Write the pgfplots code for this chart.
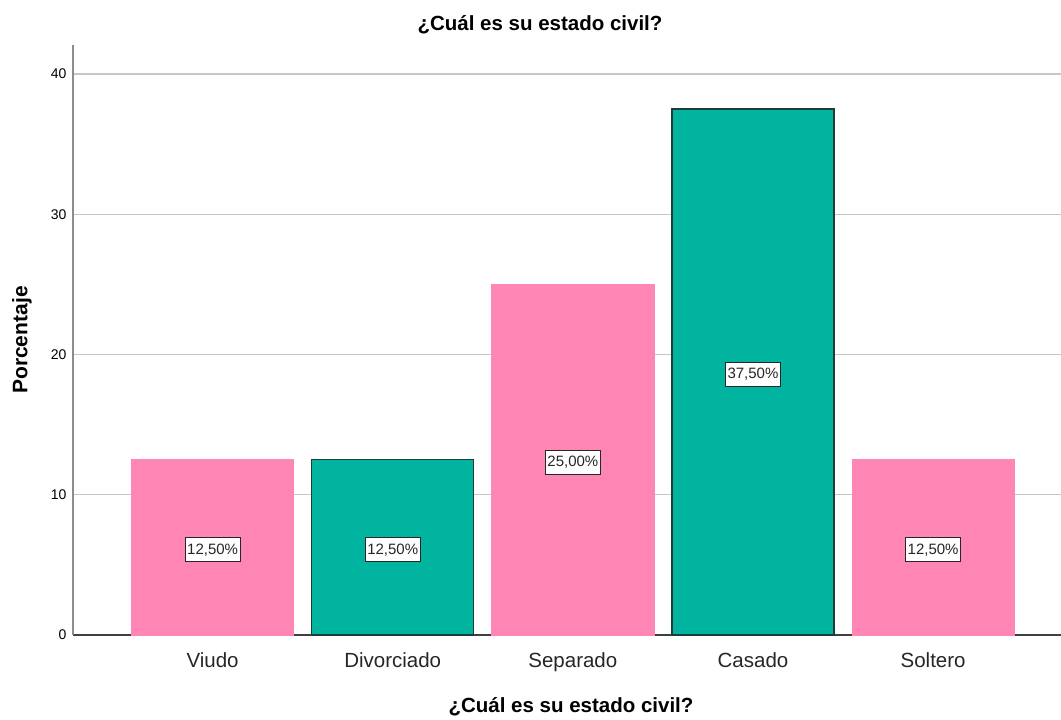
\documentclass[border=0pt]{standalone}
\usepackage{pgfplots}
\pgfplotsset{compat=1.18}
\usepackage{pgfplotstable}
\usepackage{fontspec}
\setmainfont{Liberation Sans}
\definecolor{pinkbar}{HTML}{FF85B5}
\definecolor{tealbar}{HTML}{00B4A0}
\definecolor{tealedge}{HTML}{1E3C38}
\pgfplotstableread{
x y
0 12.5
2 25.0
4 12.5
}\pinkdata
\pgfplotstableread{
x y
1 12.5
3 37.5
}\tealdata
\pgfplotstableread{
x y
0 12.5
1 12.5
2 25.0
3 37.5
4 12.5
}\alldata
\begin{document}
\begin{tikzpicture}[x=1pt,y=1pt]
\path[use as bounding box] (0,0) rectangle (1061,720);
\begin{axis}[
  at={(73pt,85pt)}, anchor=south west,
  scale only axis, width=988pt, height=590pt,
  xmin=-0.775, xmax=4.71, ymin=0, ymax=42.07,
  axis x line*=bottom, axis y line*=left,
  x axis line style={draw=black!75, line width=1.2pt, -},
  y axis line style={draw=black!45, line width=1.2pt, -},
  xtick={0,1,2,3,4},
  xticklabels={Viudo,Divorciado,Separado,Casado,Soltero},
  ytick={0,10,20,30,40},
  major tick length=0pt,
  ymajorgrids, grid style={draw=black!22, line width=1.2pt},
  xticklabel style={font=\fontsize{20.5}{22}\selectfont, text=black!85, yshift=-14pt},
  yticklabel style={font=\fontsize{14}{16}\selectfont, xshift=-3pt},
  /pgf/number format/assume math mode=true,
  clip=false,
]
\addplot[ybar, bar shift=0pt, bar width=0.9, fill=pinkbar, draw=pinkbar, line width=0.6pt] table[x=x,y=y] {\pinkdata};
\addplot[ybar, bar shift=0pt, bar width=0.9, fill=tealbar, draw=tealedge, line width=1.3pt] table[x=x,y=y] {\tealdata};
\addplot[draw=none, mark=none,
  point meta=explicit,
  nodes near coords={\pgfmathprintnumber[fixed,fixed zerofill,precision=2,use comma]{\pgfplotspointmeta}\%},
  every node near coord/.append style={anchor=center, fill=white, draw=black!85, line width=1pt,
     inner xsep=2pt, inner ysep=0pt, minimum height=24pt, yshift=-2.5pt,
     font=\fontsize{15}{16}\selectfont, text=black!85}]
  table[x=x, y expr=\thisrow{y}/2, meta=y] {\alldata};
\end{axis}
\node[font=\bfseries\fontsize{20.5}{22}\selectfont] at (540,695) {¿Cuál es su estado civil?};
\node[font=\bfseries\fontsize{20.5}{22}\selectfont] at (571,13) {¿Cuál es su estado civil?};
\node[font=\bfseries\fontsize{21}{22}\selectfont, rotate=90] at (22,380) {Porcentaje};
\end{tikzpicture}
\end{document}
